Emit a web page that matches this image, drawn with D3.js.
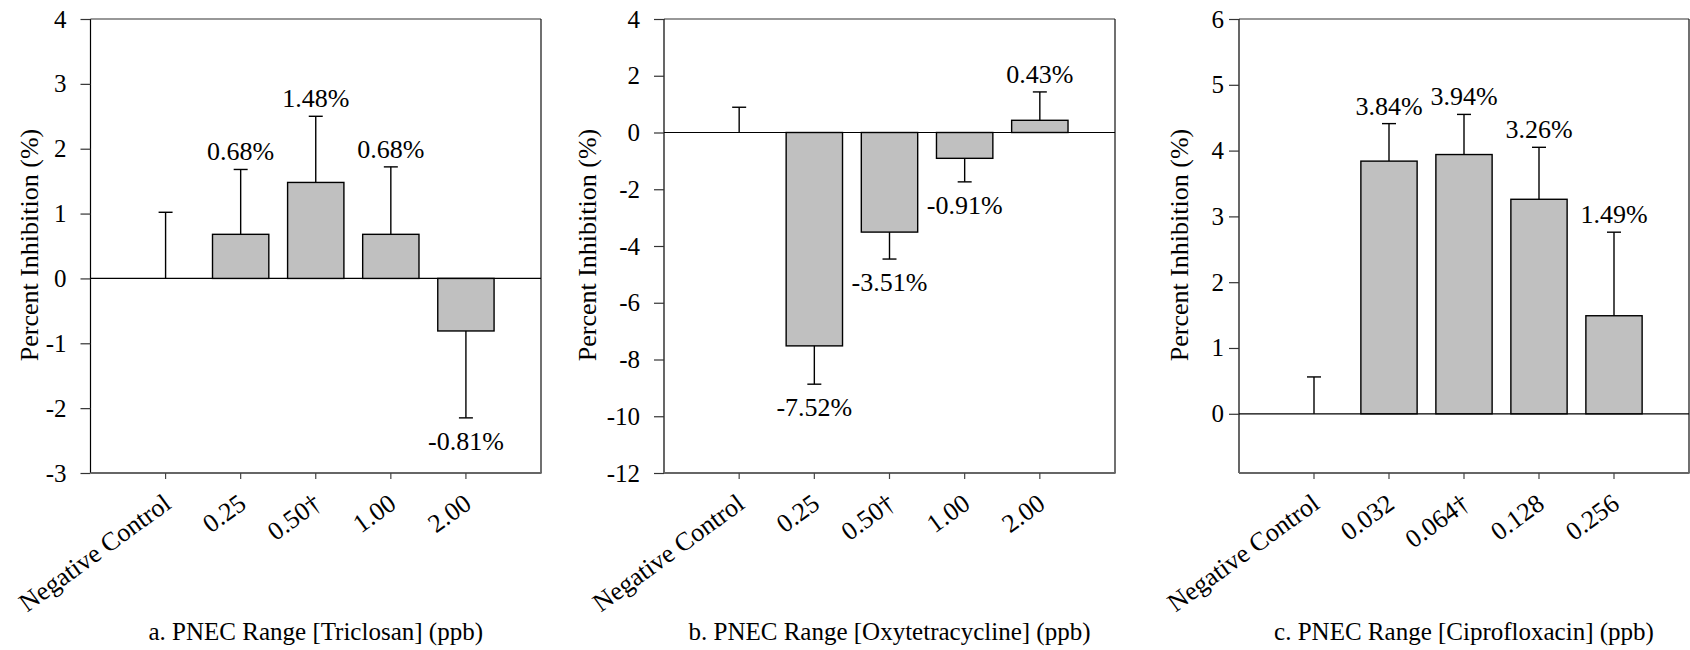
<!DOCTYPE html>
<html>
<head>
<meta charset="utf-8">
<script src="https://cdn.jsdelivr.net/npm/d3@7"></script>
<style>
  body { margin: 0; background: #fff; }
  svg text { font-family: "Liberation Serif", "Times New Roman", serif; fill: #000; }
</style>
</head>
<body>
<svg id="chart" width="1690" height="650"></svg>
<script>
// Percent inhibition at PNEC-range concentrations, mean with SD error bars

const triclosanCategories = ["Negative Control", "0.25", "0.50\u2020", "1.00", "2.00"];
const triclosanMeans = [0, 0.68, 1.48, 0.68, -0.81];
const triclosanErrors = [1.02, 1.00, 1.02, 1.04, 1.34];
const triclosanTicks = [-3, -2, -1, 0, 1, 2, 3, 4];

const oxytetracyclineCategories = ["Negative Control", "0.25", "0.50\u2020", "1.00", "2.00"];
const oxytetracyclineMeans = [0, -7.52, -3.51, -0.91, 0.43];
const oxytetracyclineErrors = [0.89, 1.35, 0.95, 0.83, 1.00];
const oxytetracyclineTicks = [-12, -10, -8, -6, -4, -2, 0, 2, 4];

const ciprofloxacinCategories = ["Negative Control", "0.032", "0.064\u2020", "0.128", "0.256"];
const ciprofloxacinMeans = [0, 3.84, 3.94, 3.26, 1.49];
const ciprofloxacinErrors = [0.56, 0.57, 0.61, 0.79, 1.27];
const ciprofloxacinTicks = [0, 1, 2, 3, 4, 5, 6];

const panelTitles = [
  "a. PNEC Range [Triclosan] (ppb)",
  "b. PNEC Range [Oxytetracycline] (ppb)",
  "c. PNEC Range [Ciprofloxacin] (ppb)"
];
const yAxisTitle = "Percent Inhibition (%)";

// layout of the three panels
const plotTop = 19, plotBottom = 473;
const serif = "'Liberation Serif', 'Times New Roman', serif";
const panels = [
  { cats: triclosanCategories, means: triclosanMeans, errs: triclosanErrors, ticks: triclosanTicks,
    domain: [-3, 4], title: panelTitles[0], left: 90.5, right: 541, tickPad: 14, yTitleGap: 53 },
  { cats: oxytetracyclineCategories, means: oxytetracyclineMeans, errs: oxytetracyclineErrors, ticks: oxytetracyclineTicks,
    domain: [-12, 4], title: panelTitles[1], left: 664, right: 1115, tickPad: 14, yTitleGap: 68 },
  { cats: ciprofloxacinCategories, means: ciprofloxacinMeans, errs: ciprofloxacinErrors, ticks: ciprofloxacinTicks,
    domain: [-0.9, 6], title: panelTitles[2], left: 1239, right: 1689, tickPad: 5, yTitleGap: 51 }
];

const svg = d3.select("#chart");
svg.append("rect").attr("width", 1690).attr("height", 650).attr("fill", "#fff");

panels.forEach(p => {
  const g = svg.append("g").attr("font-family", serif);
  const x = d3.scalePoint().domain(p.cats).range([p.left, p.right]).padding(1);
  const y = d3.scaleLinear().domain(p.domain).range([plotBottom, plotTop]);
  const barW = x.step() * 0.75;
  const capHalf = 7;

  // frame: top and right edges
  g.append("line").attr("x1", p.left).attr("x2", p.right).attr("y1", plotTop).attr("y2", plotTop)
    .attr("stroke", "#333").attr("stroke-width", 1.2);
  g.append("line").attr("x1", p.right).attr("x2", p.right).attr("y1", plotTop).attr("y2", plotBottom)
    .attr("stroke", "#111").attr("stroke-width", 1.2);

  // y axis
  const yAxis = g.append("g").attr("transform", `translate(${p.left},0)`)
    .call(d3.axisLeft(y).tickValues(p.ticks).tickSize(10).tickPadding(p.tickPad).tickSizeOuter(0)
      .tickFormat(d => String(d)));
  yAxis.attr("font-family", serif);
  yAxis.select(".domain").attr("stroke", "#000").attr("stroke-width", 1.2)
    .attr("d", `M0,${plotTop}V${plotBottom}`);
  yAxis.selectAll(".tick line").attr("stroke", "#333").attr("stroke-width", 1.2);
  yAxis.selectAll(".tick text").attr("font-size", 25).style("font-family", serif);

  // bottom axis line and category ticks
  g.append("line").attr("x1", p.left).attr("x2", p.right + 0.6).attr("y1", plotBottom).attr("y2", plotBottom)
    .attr("stroke", "#666").attr("stroke-width", 2);
  g.selectAll(".xtick").data(p.cats).join("line")
    .attr("x1", d => x(d)).attr("x2", d => x(d))
    .attr("y1", plotBottom).attr("y2", plotBottom + 6)
    .attr("stroke", "#444").attr("stroke-width", 1.2);
  g.selectAll(".xlab").data(p.cats).join("text")
    .attr("text-anchor", "end")
    .attr("font-size", 26)
    .style("font-family", serif)
    .attr("transform", d => `translate(${x(d) + 7},${plotBottom + 34}) rotate(-36)`)
    .text(d => d);

  // zero reference line
  g.append("line").attr("x1", p.left).attr("x2", p.right).attr("y1", y(0)).attr("y2", y(0))
    .attr("stroke", "#000").attr("stroke-width", 1.2);

  const rows = p.cats.map((c, i) => ({ c, v: p.means[i], e: p.errs[i], i }));

  // bars
  g.selectAll(".bar").data(rows.filter(d => d.v !== 0)).join("rect")
    .attr("x", d => x(d.c) - barW / 2)
    .attr("y", d => Math.min(y(d.v), y(0)))
    .attr("width", barW)
    .attr("height", d => Math.abs(y(d.v) - y(0)))
    .attr("fill", "#c0c0c0")
    .attr("stroke", "#000").attr("stroke-width", 1.4);

  // error bars (one-sided, away from zero)
  const errEnd = d => d.v >= 0 ? d.v + d.e : d.v - d.e;
  g.selectAll(".err").data(rows).join("line")
    .attr("x1", d => x(d.c)).attr("x2", d => x(d.c))
    .attr("y1", d => y(d.v)).attr("y2", d => y(errEnd(d)))
    .attr("stroke", "#000").attr("stroke-width", 1.4);
  g.selectAll(".cap").data(rows).join("line")
    .attr("x1", d => x(d.c) - capHalf).attr("x2", d => x(d.c) + capHalf)
    .attr("y1", d => y(errEnd(d))).attr("y2", d => y(errEnd(d)))
    .attr("stroke", "#000").attr("stroke-width", 1.4);

  // value labels
  g.selectAll(".val").data(rows.filter(d => d.v !== 0)).join("text")
    .attr("text-anchor", "middle")
    .attr("font-size", 26)
    .style("font-family", serif)
    .attr("x", d => x(d.c))
    .attr("y", d => d.v >= 0 ? y(errEnd(d)) - 9 : y(errEnd(d)) + 32)
    .text(d => d.v.toFixed(2) + "%");

  // axis titles
  g.append("text").attr("text-anchor", "middle").attr("font-size", 26)
    .style("font-family", serif)
    .attr("transform", `translate(${p.left - p.yTitleGap},${(plotTop + plotBottom) / 2 - 1}) rotate(-90)`)
    .text(yAxisTitle);
  g.append("text").attr("text-anchor", "middle").attr("font-size", 25)
    .style("font-family", serif)
    .attr("x", (p.left + p.right) / 2).attr("y", 640)
    .text(p.title);
});
</script>
</body>
</html>
